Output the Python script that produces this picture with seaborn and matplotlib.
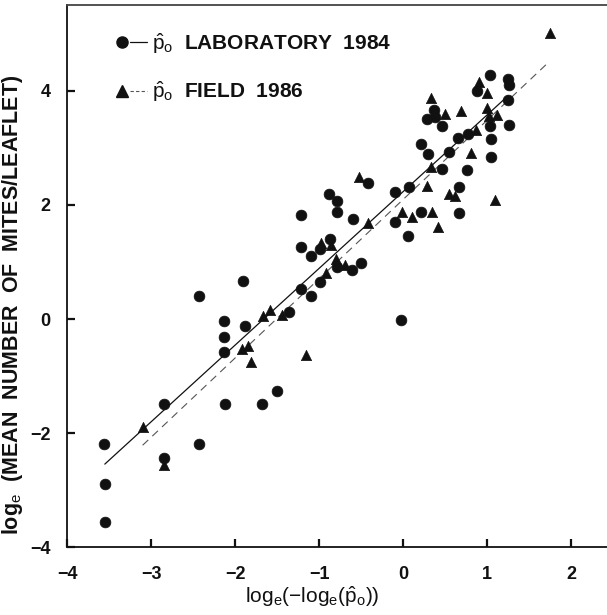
import numpy as np
import pandas as pd
import matplotlib
matplotlib.use("Agg")
import matplotlib.pyplot as plt
import seaborn as sns
from matplotlib.lines import Line2D
from matplotlib.legend_handler import HandlerTuple

# laboratory 1984 (circles)
lab_x = [-3.56, -3.55, -3.55, -2.85, -2.85, -2.43, -2.12, -1.68, -1.50, -2.13,
         -2.13, -2.13, -1.88, -2.43, -1.91, -1.36, -1.22, -1.10, -0.99, -0.78,
         -0.61, -0.50, -0.99, -1.10, -1.22, -0.87, -1.22, -0.78, -0.78, -0.88,
         -0.60, -0.42, -0.10, 0.07, -0.10, 0.21, 0.06, 0.67, 0.67, -0.02,
         0.30, 0.21, 0.47, 0.55, 0.76, 0.65, 0.77, 0.47, 0.29, 0.37,
         0.38, 0.88, 1.04, 1.25, 1.26, 1.25, 1.04, 1.26, 1.05, 1.05]
lab_y = [-2.18, -2.89, -3.55, -1.48, -2.44, -2.18, -1.48, -1.49, -1.26, -0.57,
         -0.31, -0.03, -0.12, 0.41, 0.67, 0.12, 0.52, 0.40, 0.65, 0.92,
         0.86, 0.99, 1.22, 1.11, 1.26, 1.40, 1.82, 1.88, 2.07, 2.19,
         1.75, 2.39, 2.22, 2.31, 1.70, 1.87, 1.45, 1.85, 2.31, -0.01,
         2.89, 3.06, 2.62, 2.92, 2.61, 3.18, 3.25, 3.38, 3.50, 3.67,
         3.54, 4.00, 4.27, 4.21, 4.10, 3.84, 3.38, 3.40, 3.16, 2.83]

# field 1986 (triangles)
field_x = [-3.10, -2.85, -1.92, -1.85, -1.81, -1.15, -1.67, -1.58, -1.44, -0.92,
           -0.80, -0.69, -0.98, -0.86, -0.42, -0.01, 0.11, 0.34, 0.42, 0.28,
           0.55, 0.62, 1.10, -0.52, 0.33, 0.81, 0.87, 0.50, 0.69, 0.33,
           1.00, 1.02, 1.12, 1.00, 0.91, 1.75]
field_y = [-1.89, -2.56, -0.53, -0.47, -0.75, -0.63, 0.06, 0.16, 0.08, 0.81,
           1.06, 0.95, 1.34, 1.30, 1.69, 1.87, 1.79, 1.88, 1.62, 2.33,
           2.19, 2.15, 2.08, 2.49, 2.67, 2.90, 3.32, 3.60, 3.65, 3.87,
           3.69, 3.56, 3.57, 3.96, 4.16, 5.01]

# fitted lines (end points)
lab_fit_x = [-3.55, 1.25]
lab_fit_y = [-2.54, 3.91]
field_fit_x = [-3.10, 1.72]
field_fit_y = [-2.21, 4.48]

sns.set_theme(style="ticks")
plt.rcParams['font.family'] = ['Liberation Sans', 'DejaVu Sans']
plt.rcParams['mathtext.fontset'] = 'custom'
plt.rcParams['mathtext.rm'] = 'Liberation Sans'
plt.rcParams['mathtext.it'] = 'Liberation Sans:italic'
plt.rcParams['mathtext.bf'] = 'Liberation Sans:bold'

ink = "#111111"
fig = plt.figure(figsize=(6.07, 6.15), dpi=100)
ax = fig.add_axes([0.1104, 0.1098, 0.8995, 0.882])

lab = pd.DataFrame({"x": lab_x, "y": lab_y})
field = pd.DataFrame({"x": field_x, "y": field_y})

sns.scatterplot(data=lab, x="x", y="y", marker="o", s=60, color=ink,
                edgecolor=ink, linewidth=0.5, ax=ax, zorder=3)
sns.scatterplot(data=field, x="x", y="y", marker="^", s=55, color=ink,
                edgecolor=ink, linewidth=0.5, ax=ax, zorder=3)
sns.lineplot(x=lab_fit_x, y=lab_fit_y, color=ink, linewidth=0.9, ax=ax, zorder=2)
sns.lineplot(x=field_fit_x, y=field_fit_y, color="#555555", linewidth=0.8,
             linestyle=(0, (7, 5)), ax=ax, zorder=2)

ax.set_xlim(-4, 2.5)
ax.set_ylim(-4, 5.5)
ax.set_xticks([-4, -3, -2, -1, 0, 1, 2])
ax.set_yticks([-4, -2, 0, 2, 4])
ax.tick_params(direction="in", length=6, width=1.6, colors=ink, labelsize=13)
ax.tick_params(axis="x", pad=13)
ax.tick_params(axis="y", pad=12)
for lbl in ax.get_xticklabels() + ax.get_yticklabels():
    lbl.set_fontweight("bold")

for side in ["left", "bottom"]:
    ax.spines[side].set_color(ink)
    ax.spines[side].set_linewidth(1.3)
ax.spines["top"].set_color("#444444")
ax.spines["top"].set_linewidth(1.3)
ax.spines["right"].set_visible(False)

ax.set_xlabel(r"log$_\mathrm{e}$($-$log$_\mathrm{e}$($\hat{\mathrm{p}}_\mathrm{o}$))",
              fontsize=15, color=ink)
ax.xaxis.set_label_coords(0.45, -0.068)

ylab = ax.set_ylabel(r"log$_\mathrm{e}$  (MEAN  NUMBER  OF  MITES/LEAFLET)",
                     fontsize=14, fontweight="bold", color=ink)
ax.yaxis.set_label_coords(-0.077, 0.447)
# size the long label so it runs about 500 px, as in the original
fig.canvas.draw()
ext = ylab.get_window_extent(renderer=fig.canvas.get_renderer())
ylab.set_fontsize(min(15.5, 14 * 500 / ext.height))

h_dot = Line2D([], [], marker="o", linestyle="none", color=ink, markersize=8)
h_tri = Line2D([], [], marker="^", linestyle="none", color=ink, markersize=8)
h_solid = Line2D([], [], color=ink, linewidth=0.9)
h_dash = Line2D([], [], color="#555555", linewidth=0.8, linestyle=(0, (3, 2)))
leg = ax.legend([(h_dot, h_solid), (h_tri, h_dash)],
                [r"$\hat{\mathrm{p}}_\mathrm{o}$  LABORATORY  1984",
                 r"$\hat{\mathrm{p}}_\mathrm{o}$  FIELD  1986"],
                handler_map={tuple: HandlerTuple(ndivide=None, pad=0)},
                loc="upper left", bbox_to_anchor=(0.085, 0.952),
                frameon=False, fontsize=15, handlelength=1.6,
                handletextpad=0.25, labelspacing=1.15,
                borderpad=0, borderaxespad=0)
for t in leg.get_texts():
    t.set_fontweight("bold")
    t.set_color(ink)

fig.savefig("out.png", dpi=100)
